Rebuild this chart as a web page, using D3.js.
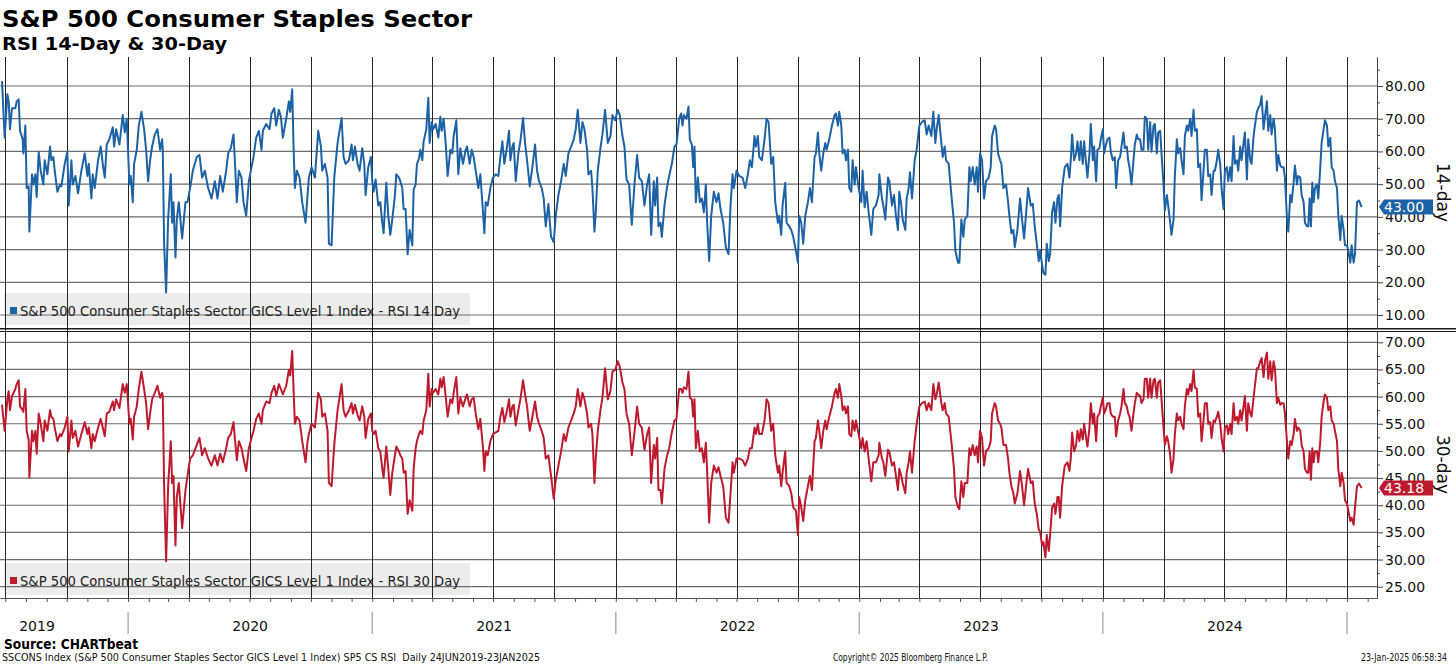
<!DOCTYPE html>
<html>
<head>
<meta charset="utf-8">
<script src="https://cdn.jsdelivr.net/npm/d3@7"></script>
<style>
  body { margin: 0; background: #fff; }
  svg { display: block; font-family: "DejaVu Sans", Verdana, sans-serif; }
</style>
</head>
<body>
<svg id="chart"></svg>
<script>
const startDate = new Date(2019, 5, 24)
const days = [
  2,6,10,12,14,17,22,24,27,29, 33,34,37,39,42,43,47,49,52,54,
  57,60,64,66,70,74,76,79,81,85, 89,91,96,100,102,106,108,112,116,121,
  126,130,132,136,138,141,146,150,153,156, 159,163,168,170,173,178,183,186,189,193,
  195,198,200,204,207,211,215,218,221,224, 227,231,235,239,242,243,245,248,251,255,
  257,259,262,264,267,272,277,280,284,288, 294,298,302,306,311,316,321,325,329,333,
  338,341,345,349,351,354,357,361,364,368, 372,376,379,383,387,391,393,398,403,406,
  410,413,417,420,423,428,432,434,437,439, 441,444,448,452,457,460,462,466,471,476,
  480,482,486,490,492,496,500,505,511,514, 517,522,
  526,528,531,535,538,542,545,547,551,555, 557,559,562,566,569,572,574,578,581,584,
  587,591,593,597,599,602,604,607,610,613, 617,619,622,624,627,629,632,634,638,641,
  643,646,648,652,656,659,661,664,667,670, 674,677,679,683,686,689,693,697,699,703,
  706,709,712,716,719,723,725,727,730,734, 738,742,746,749,752,755,759,762,764,767,
  769,772,776,779,783,786,789,793,797,801, 804,807,811,814,817,821,825,829,832,836,
  840,844,847,851,855,859,862,865,869,872, 875,879,881,885,887,890,892,895,899,902,
  906,910,914,917,921,925,928,932,935,938, 942,946,950,954,957,961,965,969,972,975,
  979,981,984,986,989,991,995,999,1002,1006, 1010,1013,1017,
  1020,1022,1024,1028,1031,1033,1036,1038,1040,1042, 1045,1048,1051,1054,1057,1059,1062,1065,1069,1073,
  1076,1079,1083,1087,1091,1094,1097,1099,1103,1107, 1112,1116,1120,1123,1126,1130,1132,1135,1137,1141,
  1145,1148,1151,1155,1158,1161,1165,1167,1170,1172, 1176,1178,1182,1185,1188,1192,1195,1197,1200,1203,
  1206,1210,1213,1216,1220,1222,1225,1227,1230,1233, 1236,1238,1242,1246,1250,1252,1255,1257,1260,1262,
  1265,1267,1270,1272,1275,1277,1280,1282,1286,1290, 1292,1295,1298,1301,1305,1308,1312,1316,1317,1321,
  1323,1326,1330,1332,1336,1339,1342,1345,1347,1350, 1352,1356,1358,1361,1363,1366,1370,1373,1377,1381,
  1385,1388,1391,1395,1398,1401,1403,1406,1410,1412, 1415,1417,1421,1425,1429,1431,1435,1437,1440,1443,
  1445,1449,1452,1454,1457,1460,1463,1465,1468,1471, 1474,1477,1481,1484,1486,1490,1492,1495,1498,1500,
  1503,1507,1510,1512,1515,1518,1520,1524,1528,1531, 1534,1538,1540,
  1544,1547,1550,1553,1556,1558,1561,1563,1566,1568, 1571,1573,1576,1579,1581,1584,1586,1588,1591,1595,
  1599,1602,1604,1606,1609,1612,1614,1617,1619,1622, 1624,1627,1629,1632,1634,1637,1639,1642,1644,1647,
  1649,1652,1654,1656,1659,1662,1664,1667,1670,1672, 1675,1678,1680,1683,1685,1688,1690,1692,1695,1698,
  1700,1703,1705,1708,1710,1713,1715,1718,1720,1723, 1725,1728,1730,1733,1735,1738,1740,1743,1745,1748,
  1750,1753,1755,1758,1760,1763,1765,1768,1770,1773, 1775,1778,1780,1783,1785,1788,1790,1793,1795,1798,
  1800,1803,1805,1808,1810,1813,1815,1818,1820,1823, 1825,1828,1830,1833,1835,1838,1840,1843,1845,1848,
  1850,1853,1855,1858,1860,1863,1865,1868,1870,1873, 1875,1878,1880,1883,1885,1888,1890,1893,1895,1898,
  1900,1903,1905,1908,1910,1913,1915,1918,1920,1923, 1925,1928,1930,1933,1935,1938,1940,1943,1945,1948,
  1950,1953,1955,1958,1960,1962,1964,1966,1968,1970, 1973,1975,1978,1980,1983,1985,1988,1990,1993,1995,
  1998,2000,2003,2005,2008,2010,2013,2015,2018,2020, 2023,2025,2028,2030,2033,2036,2040
]

const rsi14 = [
  81.5,64.2,77.5,75.3,66.8,73.2,73.2,75.3,75.9,66.3, 63.7,59.4,67.9,48.8,49.3,35.5,53.0,49.9,53.0,46.1,
  59.9,54.1,49.9,57.3,53.0,61.5,57.3,58.3,54.1,47.7, 49.9,49.3,56.2,59.9,43.5,57.3,49.9,52.5,47.2,54.1,
  59.4,52.5,56.2,45.6,53.0,48.8,57.3,61.5,56.2,52.0, 62.1,63.7,67.4,61.5,66.8,62.1,71.1,65.8,70.0,49.9,
  52.5,44.5,56.2,60.5,67.9,72.1,66.8,60.5,50.9,57.3, 61.5,65.2,66.8,60.5,63.7,60.5,31.8,16.9,39.2,53.0,
  38.2,44.5,27.6,39.2,44.5,33.4,44.5,44.5,48.8,54.1, 58.3,58.9,52.0,54.1,48.8,45.6,50.9,45.6,52.5,47.7,
  54.1,59.4,61.0,65.2,57.3,44.5,54.1,52.0,44.5,40.3, 50.9,55.2,58.3,64.2,66.3,60.5,66.3,68.4,66.8,71.6,
  73.2,67.9,72.7,70.6,64.2,70.0,75.3,72.1,79.0,61.5, 48.8,54.1,52.0,44.5,38.2,46.7,52.0,55.2,52.0,66.3,
  61.5,54.1,56.2,52.0,31.8,31.3,52.0,62.6,70.2,58.3, 56.2,57.3,
  62.1,57.3,61.5,56.2,54.1,61.0,56.2,46.7,55.2,58.3, 50.9,47.7,51.4,43.5,44.5,38.2,35.0,50.4,40.3,34.5,
  39.2,46.7,53.0,52.0,50.9,48.8,42.4,42.4,28.6,36.0, 31.3,48.3,49.9,56.2,57.8,60.5,57.3,63.1,66.8,76.4,
  62.6,69.0,66.8,68.4,64.2,70.6,66.3,70.0,62.6,52.5, 60.5,59.4,64.7,69.5,53.0,61.0,56.2,60.5,61.5,56.2,
  60.5,58.3,54.1,48.8,53.0,41.4,35.0,44.5,43.5,48.8, 52.0,53.0,52.5,58.3,63.1,56.2,61.5,66.3,57.3,61.5,
  62.6,50.9,59.4,63.1,70.2,62.6,57.3,49.3,55.2,62.1, 54.1,50.9,48.8,45.6,37.1,44.0,33.9,32.3,40.3,46.7,
  50.9,56.2,52.5,59.4,61.5,63.7,66.8,72.7,62.6,69.0, 66.8,60.5,53.0,54.1,48.8,35.5,41.4,54.1,61.0,65.2,
  72.7,62.6,64.7,71.1,69.5,72.7,71.1,64.7,61.5,51.4, 49.9,37.6,49.9,58.9,52.0,50.9,43.5,49.9,53.0,34.5,
  50.9,43.5,52.0,37.1,38.2,33.9,43.5,49.3,52.5,56.2, 61.5,62.1,70.0,
  71.6,67.9,71.1,70.0,73.7,63.7,62.1,55.2,61.5,44.5, 52.0,44.5,45.6,41.4,49.9,38.2,26.5,40.3,47.7,44.5,
  47.2,42.4,38.2,30.7,28.6,43.5,53.0,48.8,54.1,52.5, 52.0,48.8,53.0,57.3,55.2,64.7,61.5,64.7,58.3,57.3,
  63.7,70.0,69.0,56.2,58.3,44.5,38.2,40.3,34.5,43.5, 50.4,38.2,37.1,36.0,33.9,29.7,26.0,40.3,38.2,31.8,
  40.3,44.5,48.8,44.5,58.3,59.4,65.8,59.4,54.1,59.4, 62.6,60.5,63.7,67.9,71.1,71.6,67.9,72.1,67.9,59.4,
  60.5,57.3,60.5,48.8,47.7,57.3,49.9,55.2,48.8,44.5, 54.1,42.9,47.7,41.4,34.5,42.4,43.5,46.7,53.0,45.6,
  43.5,39.2,52.0,50.9,43.5,46.7,40.3,36.0,47.7,43.5, 39.2,36.0,45.6,48.8,53.6,45.6,57.3,60.5,67.9,69.0,
  69.5,65.2,67.9,64.7,72.1,62.6,66.8,71.1,62.6,58.3, 61.5,57.3,56.2,46.7,38.2,29.7,26.0,26.0,39.2,33.9,
  39.2,40.3,55.2,50.9,55.2,49.9,55.2,47.7,59.4,57.3, 45.6,50.9,52.0,55.2,64.7,67.9,66.8,59.4,57.3,56.2,
  48.8,49.9,44.5,40.3,35.0,36.0,30.7,36.0,45.6,39.2, 33.4,43.5,48.8,
  43.5,44.0,37.1,31.8,26.5,29.7,25.4,22.8,22.3,31.8, 26.5,28.6,41.4,44.5,38.2,45.6,46.7,37.1,48.8,55.2,
  56.2,52.0,57.3,65.2,57.3,59.4,63.1,57.3,63.1,56.2, 63.1,56.2,52.0,59.4,68.4,57.3,61.5,50.9,60.5,61.0,
  63.7,66.8,59.4,61.5,63.7,64.2,59.9,57.3,58.3,48.8, 57.3,58.3,61.5,65.8,61.0,61.5,57.3,55.2,49.9,57.3,
  62.1,65.2,63.7,63.7,60.5,60.5,70.6,70.0,60.5,69.0, 59.9,67.9,68.4,59.4,65.8,66.3,59.4,49.9,41.9,46.7,
  43.5,38.2,34.5,39.2,52.5,63.7,59.4,61.0,57.3,53.0, 64.7,67.9,66.3,70.0,64.7,72.7,66.3,66.8,55.2,56.2,
  45.1,54.1,60.5,60.5,52.5,53.0,46.7,54.1,54.1,57.3, 60.5,56.2,48.8,42.4,54.1,55.2,50.9,55.2,50.9,64.7,
  56.2,57.3,54.1,61.5,57.3,62.6,65.8,51.4,63.7,57.3, 56.2,64.7,67.9,72.1,73.2,74.3,76.9,66.8,70.6,75.3,
  66.3,71.1,65.2,70.0,66.8,54.1,58.9,55.7,55.2,55.2, 52.0,39.8,35.5,46.7,44.5,50.4,55.7,49.9,52.5,52.0,
  46.7,44.5,38.2,37.1,37.1,45.6,37.1,50.4,44.5,48.8, 49.9,45.6,55.2,62.6,66.8,69.5,67.9,61.5,64.2,55.2,
  54.1,50.9,48.8,40.3,32.9,40.3,36.0,31.3,31.3,29.7, 26.0,31.3,26.0,28.6,44.5,45.0,43.0
]

const rsi30 = [
  58.5,53.7,59.5,61.0,57.5,60.1,61.4,62.3,63.0,58.2, 57.5,57.2,61.4,53.7,52.0,45.1,53.7,51.8,53.7,49.5,
  56.9,55.0,51.8,55.6,53.7,57.5,56.3,55.9,54.3,51.8, 53.1,52.7,54.3,56.3,49.9,55.6,52.4,53.7,50.8,53.1,
  55.3,53.1,54.3,50.5,53.1,51.8,54.3,55.9,54.3,52.7, 56.9,57.2,59.1,57.5,59.5,57.9,62.3,60.7,62.3,55.0,
  55.9,52.1,56.3,58.2,61.4,64.6,61.4,58.8,54.0,56.9, 59.5,60.7,62.0,59.8,60.7,60.1,43.5,29.7,43.5,51.8,
  44.1,45.4,32.6,41.5,44.1,35.8,42.8,45.4,48.6,49.2, 51.1,52.4,49.2,50.5,48.6,47.3,49.2,47.3,49.5,47.9,
  50.5,52.4,53.1,55.3,52.4,48.3,51.8,50.5,48.6,46.3, 50.5,52.4,53.7,55.9,56.9,55.0,57.5,59.1,58.8,60.7,
  62.0,60.1,62.3,61.4,60.4,62.0,64.9,63.9,68.4,61.4, 55.0,56.3,55.6,51.8,47.9,51.8,53.1,55.0,54.3,60.7,
  59.5,56.3,56.9,53.7,44.1,43.5,51.1,57.5,62.3,57.5, 56.3,57.5,
  58.8,56.9,58.5,56.6,55.6,58.2,56.3,52.4,55.9,56.9, 53.7,53.1,53.7,50.5,49.9,46.7,45.1,50.8,46.7,41.9,
  46.0,49.2,50.8,49.9,49.2,48.6,46.0,46.3,38.4,40.9, 39.0,46.7,50.5,51.8,53.1,53.7,53.1,55.6,57.5,64.2,
  58.2,61.4,60.7,61.4,60.4,63.3,61.7,63.6,60.1,56.3, 59.5,58.8,60.7,63.6,56.9,59.8,58.2,59.8,60.4,58.2,
  59.5,59.8,56.9,54.0,55.9,50.5,46.3,49.9,49.2,51.8, 53.1,53.4,53.7,56.3,57.9,55.3,57.5,59.5,56.3,58.2,
  58.5,54.7,57.5,59.5,63.0,60.4,58.2,53.7,56.3,59.1, 56.3,55.0,53.7,52.4,48.6,49.2,45.4,41.2,44.7,47.3,
  49.9,53.1,51.8,54.3,55.6,56.9,58.2,61.4,58.2,60.7, 59.5,56.9,54.3,55.0,53.1,44.1,48.6,53.7,57.5,59.8,
  65.2,59.5,61.0,64.6,64.9,66.5,65.5,62.6,61.4,56.9, 55.0,49.2,53.4,58.2,55.0,54.3,50.2,53.1,54.3,44.1,
  51.1,48.6,52.4,42.8,42.8,40.3,46.7,49.2,50.5,53.4, 55.6,55.9,61.4,
  61.4,60.7,61.7,61.4,64.6,59.8,59.5,56.3,59.5,50.5, 53.7,49.9,50.5,47.9,51.5,46.0,36.8,44.1,47.3,46.0,
  47.0,45.4,43.5,37.7,36.8,42.2,47.9,46.0,48.6,48.6, 48.3,47.3,48.6,50.5,50.5,54.3,53.1,55.0,53.1,53.1,
  55.6,59.5,58.8,53.7,55.0,49.2,46.0,47.3,43.5,46.0, 49.9,44.1,43.5,42.2,39.6,39.0,34.5,41.5,39.6,37.1,
  40.9,43.5,45.4,42.8,51.8,52.4,55.6,53.7,50.5,53.7, 55.6,54.0,56.3,58.2,60.7,61.4,59.8,62.3,60.1,57.5,
  58.2,56.9,58.2,53.1,52.7,55.6,53.7,55.6,53.1,50.5, 52.4,49.9,51.8,48.6,44.4,47.9,47.9,49.2,51.5,48.6,
  47.9,45.4,50.2,49.9,47.3,47.9,45.4,42.8,46.7,45.4, 44.1,42.2,46.0,47.9,49.9,46.0,51.8,55.0,58.2,58.8,
  59.1,57.5,58.8,57.5,62.3,59.5,60.4,62.6,58.8,57.5, 58.8,56.9,56.3,51.8,46.7,41.5,39.6,39.3,44.4,41.5,
  44.1,44.1,50.5,49.2,51.1,49.2,50.8,47.9,53.7,52.4, 47.3,49.9,50.5,51.8,56.9,58.8,58.2,55.6,55.0,54.3,
  51.1,51.1,48.6,46.0,43.5,42.2,40.3,42.2,46.3,43.5, 40.0,44.7,46.7,
  44.1,44.4,40.3,38.4,35.5,35.2,32.6,33.2,30.4,34.5, 31.6,34.5,39.6,40.3,38.4,41.5,41.5,37.7,43.5,47.3,
  47.9,46.3,48.6,53.4,49.9,51.1,53.7,51.8,54.0,52.1, 55.0,52.4,50.8,54.3,58.8,55.0,56.9,51.8,56.3,56.9,
  58.2,59.8,56.9,57.5,58.8,58.8,56.9,56.3,56.3,52.7, 55.6,56.9,58.2,61.4,58.8,58.2,56.9,56.3,53.7,56.9,
  58.8,60.7,60.4,60.1,58.8,59.5,63.3,63.3,59.8,63.3, 59.8,63.0,63.3,59.8,62.6,63.0,59.5,54.3,51.1,52.7,
  51.8,49.2,46.0,48.6,53.1,56.9,55.6,56.3,55.0,54.0, 58.2,61.4,60.4,62.3,61.0,64.9,61.7,61.4,56.3,56.9,
  51.8,55.6,58.8,58.8,55.0,55.3,52.4,55.6,55.3,56.3, 57.2,55.0,52.4,49.9,54.3,54.7,53.1,55.0,53.1,58.8,
  55.6,56.3,55.0,57.5,55.6,58.2,60.1,53.7,58.8,56.9, 56.3,59.8,62.0,65.2,65.2,66.5,67.1,63.6,66.5,68.1,
  63.3,66.5,63.0,66.5,65.2,58.8,59.8,58.5,58.8,58.8, 56.9,51.8,48.6,51.8,51.1,53.1,55.9,53.7,54.3,53.7,
  51.1,49.9,46.7,46.0,46.0,49.9,44.7,50.5,47.9,49.9, 49.9,47.9,51.8,56.3,59.1,60.4,59.8,57.5,58.2,55.6,
  55.0,53.7,51.8,46.7,43.5,46.0,44.1,40.9,40.3,39.0, 37.1,37.7,36.4,39.6,43.5,44.0,43.18
]

const ticks14 = [10, 20, 30, 40, 50, 60, 70, 80]
const minor14 = [15, 25, 35, 45, 55, 65, 75, 85]
const ticks30 = [25, 30, 35, 40, 45, 50, 55, 60, 65, 70]
const minor30 = [27.5, 32.5, 37.5, 42.5, 47.5, 52.5, 57.5, 62.5, 67.5]
const years = [2019, 2020, 2021, 2022, 2023, 2024]

const blue = "#1e62a6", red = "#be1a2e"
const width = 1456, height = 665

const svg = d3.select("#chart").attr("width", width).attr("height", height)

const data = days.map((d, i) => ({ date: d3.timeDay.offset(startDate, d), v14: rsi14[i], v30: rsi30[i] }))

var x = d3.scaleTime()
  .domain([new Date(2019, 5, 23), new Date(2025, 1, 15)])
  .range([0, 1377])

var y14 = d3.scaleLinear().domain([6.03, 88.86]).range([328, 57])
var y30 = d3.scaleLinear().domain([22.92, 72.08]).range([598, 331])

function fit(sel, w) {
  sel.attr("textLength", w).attr("lengthAdjust", "spacingAndGlyphs")
  return sel
}

// legend boxes sit under the grid
function legendBox(yBottom) {
  svg.append("rect")
    .attr("x", 4).attr("y", yBottom - 35)
    .attr("width", 466).attr("height", 32)
    .attr("fill", "#ececec")
}
legendBox(328)
legendBox(598)

// horizontal grid
svg.append("g").selectAll("line").data(ticks14).join("line")
  .attr("x1", 0).attr("x2", 1377)
  .attr("y1", d => y14(d)).attr("y2", d => y14(d))
  .attr("stroke", "#6e6e6e").attr("stroke-width", 1.2)
svg.append("g").selectAll("line").data(ticks30).join("line")
  .attr("x1", 0).attr("x2", 1377)
  .attr("y1", d => y30(d)).attr("y2", d => y30(d))
  .attr("stroke", "#6e6e6e").attr("stroke-width", 1.2)

// quarterly vertical grid
var quarters = x.ticks(d3.timeMonth.every(3))
svg.append("g").selectAll("line").data(quarters).join("line")
  .attr("x1", d => Math.round(x(d)) + 0.5).attr("x2", d => Math.round(x(d)) + 0.5)
  .attr("y1", 57).attr("y2", 598)
  .attr("stroke", "#262626").attr("stroke-width", 1)

// series
svg.append("clipPath").attr("id", "c14").append("rect")
  .attr("x", 0).attr("y", 57).attr("width", 1377).attr("height", 271)
svg.append("clipPath").attr("id", "c30").append("rect")
  .attr("x", 0).attr("y", 331).attr("width", 1377).attr("height", 267)

svg.append("path")
  .attr("clip-path", "url(#c14)")
  .attr("fill", "none").attr("stroke", blue).attr("stroke-width", 2)
  .attr("stroke-linejoin", "round")
  .attr("d", d3.line().x(d => x(d.date)).y(d => y14(d.v14))(data))

svg.append("path")
  .attr("clip-path", "url(#c30)")
  .attr("fill", "none").attr("stroke", red).attr("stroke-width", 2)
  .attr("stroke-linejoin", "round")
  .attr("d", d3.line().x(d => x(d.date)).y(d => y30(d.v30))(data))

// legend text
function legendText(yBottom, color, label) {
  svg.append("rect").attr("x", 10).attr("y", yBottom - 21).attr("width", 7).attr("height", 7).attr("fill", color)
  fit(svg.append("text").attr("x", 20).attr("y", yBottom - 12)
    .attr("font-size", 14).attr("fill", "#222").text(label), 440)
}
legendText(328, blue, "S&P 500 Consumer Staples Sector GICS Level 1 Index - RSI 14 Day")
legendText(598, red, "S&P 500 Consumer Staples Sector GICS Level 1 Index - RSI 30 Day")

// panel divider
svg.append("line").attr("x1", 0).attr("x2", width).attr("y1", 328.8).attr("y2", 328.8)
  .attr("stroke", "#1a1a1a").attr("stroke-width", 1.6)
svg.append("line").attr("x1", 0).attr("x2", width).attr("y1", 331.5).attr("y2", 331.5)
  .attr("stroke", "#1a1a1a").attr("stroke-width", 1)

// right axes: major ticks with labels, minor ticks in their own group
function rightAxis(scale, major, minor) {
  var gMinor = svg.append("g").attr("transform", "translate(1377,0)")
  gMinor.call(d3.axisRight(scale).tickValues(minor).tickFormat("").tickSize(3).tickSizeOuter(0))
  var g = svg.append("g").attr("transform", "translate(1377,0)")
  g.call(d3.axisRight(scale).tickValues(major).tickFormat(d3.format(".2f")).tickSize(6).tickSizeOuter(0).tickPadding(2))
  g.selectAll("text").attr("font-size", 14).attr("font-family", "DejaVu Sans").attr("fill", "#111")
  g.selectAll("line,path").attr("stroke", "#444")
  gMinor.selectAll("line,path").attr("stroke", "#444")
}
rightAxis(y14, ticks14, minor14)
rightAxis(y30, ticks30, minor30)

// axis titles
svg.append("text").attr("transform", `translate(1443,${(57 + 328) / 2}) rotate(90)`)
  .attr("text-anchor", "middle").attr("dy", "0.35em").attr("font-size", 17).attr("fill", "#111").text("14-day")
svg.append("text").attr("transform", `translate(1443,${(331 + 598) / 2}) rotate(90)`)
  .attr("text-anchor", "middle").attr("dy", "0.35em").attr("font-size", 17).attr("fill", "#111").text("30-day")

// last value tags
function tag(yPos, color, value) {
  var h = 15, x0 = 1379, w = 54
  svg.append("path")
    .attr("d", `M${x0},${yPos} L${x0 + 5},${yPos - h / 2} L${x0 + w},${yPos - h / 2} L${x0 + w},${yPos + h / 2} L${x0 + 5},${yPos + h / 2} Z`)
    .attr("fill", color)
  svg.append("text").attr("x", x0 + 5).attr("y", yPos).attr("dy", "0.36em")
    .attr("font-size", 14).attr("fill", "#fff").text(value)
}
tag(y14(rsi14[rsi14.length - 1]), blue, rsi14[rsi14.length - 1].toFixed(2))
tag(y30(rsi30[rsi30.length - 1]), red, rsi30[rsi30.length - 1].toFixed(2))

// bottom time axis
var bx = svg.append("g").attr("transform", "translate(0,598)")
bx.call(d3.axisBottom(x).ticks(d3.timeMonth.every(1)).tickFormat("").tickSize(4).tickSizeOuter(0))
bx.selectAll("line,path").attr("stroke", "#555")

var yearStarts = years.slice(1).concat([2025]).map(yr => new Date(yr, 0, 1))
svg.append("g").selectAll("line").data(yearStarts).join("line")
  .attr("x1", d => x(d)).attr("x2", d => x(d))
  .attr("y1", 612).attr("y2", 634)
  .attr("stroke", "#b0b0b0").attr("stroke-width", 1.5)

// year label sits at mid-year, pushed inside the left edge when needed
svg.append("g").selectAll("text").data(years).join("text")
  .attr("x", yr => Math.max((x(new Date(yr, 0, 1)) + x(new Date(yr + 1, 0, 1))) / 2, 37))
  .attr("y", 631).attr("text-anchor", "middle")
  .attr("font-size", 14).attr("fill", "#111").text(d => d)

// titles and footer
fit(svg.append("text").attr("x", 2).attr("y", 27).attr("font-size", 23).attr("font-weight", "bold")
  .attr("fill", "#000").text("S&P 500 Consumer Staples Sector"), 470)
fit(svg.append("text").attr("x", 2).attr("y", 50).attr("font-size", 17).attr("font-weight", "bold")
  .attr("fill", "#000").text("RSI 14-Day & 30-Day"), 225)
fit(svg.append("text").attr("x", 4).attr("y", 649).attr("font-size", 14).attr("font-weight", "bold")
  .attr("fill", "#000").text("Source: CHARTbeat"), 134)
fit(svg.append("text").attr("x", 2).attr("y", 661).attr("font-size", 10).style("white-space", "pre")
  .attr("fill", "#111").text("SSCONS Index (S&P 500 Consumer Staples Sector GICS Level 1 Index) SP5 CS RSI  Daily 24JUN2019-23JAN2025"), 538)
fit(svg.append("text").attr("x", 833).attr("y", 661).attr("font-size", 10)
  .attr("fill", "#111").text("Copyright© 2025 Bloomberg Finance L.P."), 155)
fit(svg.append("text").attr("x", 1361).attr("y", 661).attr("font-size", 10)
  .attr("fill", "#111").text("23-Jan-2025 06:58:34"), 86)
</script>
</body>
</html>
